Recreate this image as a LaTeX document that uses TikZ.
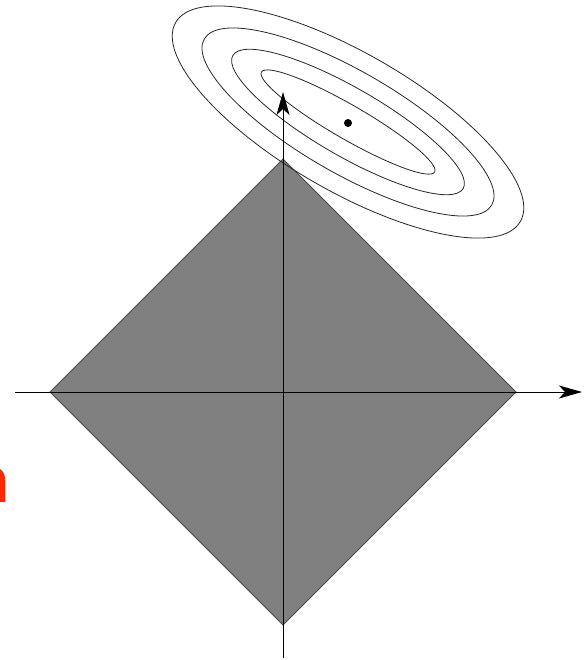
\documentclass[tikz,border=0pt]{standalone}
\usepackage{fontspec}
\setsansfont{Liberation Sans}
\usetikzlibrary{arrows.meta}
\definecolor{redn}{RGB}{255,40,0}
\definecolor{diamfill}{RGB}{128,128,128}
\tikzset{
  axisline/.style={line width=1pt, black, -{Stealth[length=23pt, width=13pt, inset=6pt]}},
  contour/.style={line width=0.8pt, black!85},
  region/.style={fill=diamfill, draw=black!70, line width=0.8pt},
}
\begin{document}
\begin{tikzpicture}[x=1pt,y=-1pt]
\useasboundingbox (0,0) rectangle (587,660);
% diamond region
\coordinate (T) at (283,159);
\coordinate (L) at (50,392);
\coordinate (R) at (516,392);
\coordinate (B) at (283,625);
\path[region] (T) -- (R) -- (B) -- (L) -- cycle;
% contours
\coordinate (C) at (348,122);
\foreach \a/\b in {100/17,133/34,166/51,199/69}{
  \draw[contour, rotate around={-30:(C)}] (C) ellipse [x radius=\a, y radius=\b];
}
\fill[black] (348,123) circle [radius=4];
% axes
\coordinate (xs) at (15,392);
\coordinate (xe) at (582,392);
\coordinate (ys) at (283,658);
\coordinate (ye) at (283,92);
\draw[axisline] (xs) -- (xe);
\draw[axisline] (ys) -- (ye);
% cut-off red letter
\node[anchor=base east, inner sep=0pt, text=redn, font=\sffamily\bfseries\fontsize{64}{64}\selectfont] (nlabel) at (9.5,502) {n};
\end{tikzpicture}
\end{document}
